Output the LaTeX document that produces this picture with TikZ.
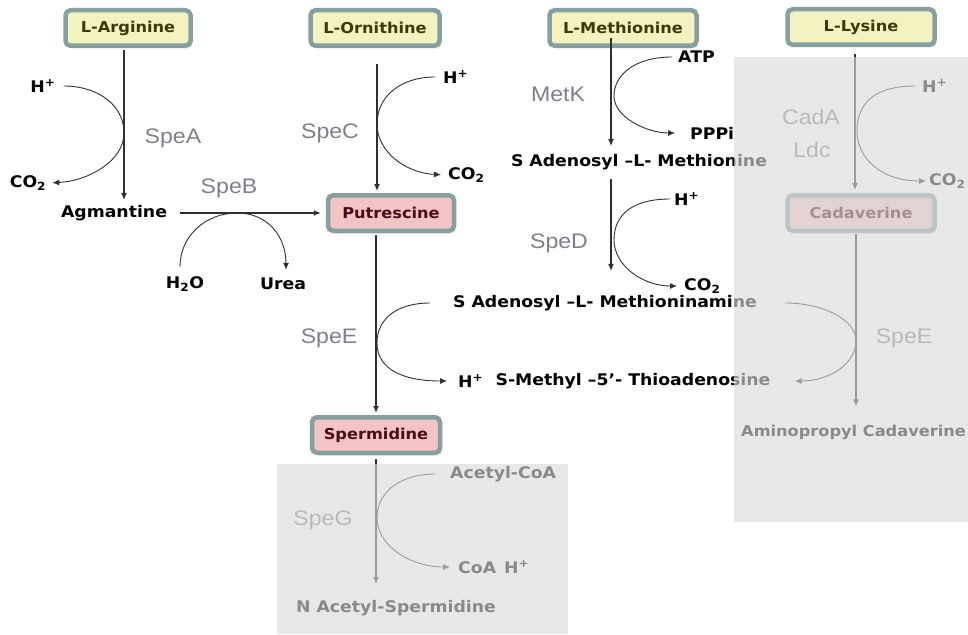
\documentclass[tikz,border=0pt]{standalone}
\usepackage{fontspec}
\usepackage{xcolor}
\usepackage{tikz}
\usetikzlibrary{arrows.meta,positioning,calc,shadows}
\newfontfamily\cmpdfont{DejaVu Sans}[FakeStretch=1.08]
\newfontfamily\enzfont{Liberation Sans}[FakeStretch=1.1]
\definecolor{boxedge}{HTML}{86A0A0}
\definecolor{aminofill}{HTML}{F3F3C2}
\definecolor{polyfill}{HTML}{F2C4C4}
\definecolor{aminotext}{HTML}{3A3A0A}
\definecolor{polytext}{HTML}{4A0A18}
\definecolor{enzgray}{HTML}{7E8088}
\definecolor{linegray}{HTML}{303030}
\definecolor{veil}{HTML}{DBDBDB}
\newcommand{\Hplus}{H\textsuperscript{+}}
\newcommand{\COtwo}{CO\textsubscript{2}}

\tikzset{
  amino/.style={draw=boxedge, line width=4.5pt, rounded corners=5pt, fill=aminofill,
    text=aminotext, minimum height=35.5pt, inner sep=0pt,
    font=\cmpdfont\bfseries\fontsize{15}{17}\selectfont,
    drop shadow={opacity=0.2, shadow xshift=2pt, shadow yshift=-3pt}},
  poly/.style={amino, fill=polyfill, text=polytext},
  cmpd/.style={inner sep=0pt, font=\cmpdfont\bfseries\fontsize{16}{18}\selectfont},
  side/.style={cmpd, inner sep=2pt},
  enz/.style={text=enzgray, inner sep=0pt, font=\enzfont\fontsize{21}{23}\selectfont},
  flow/.style={->, line width=1.2pt, draw=linegray},
  sidearc/.style={->, line width=0.9pt, draw=linegray},
}

\begin{document}
\begin{tikzpicture}[x=1pt,y=-1pt,>={Latex[length=7pt,width=6pt]}]
  \useasboundingbox (0,0) rectangle (968,634);

  % Amino acids and polyamines
  \node[amino, minimum width=125pt] (arg) at (128,28) {L-Arginine};
  \node[amino, minimum width=129pt] (orn) at (375,28) {L-Ornithine};
  \node[amino, minimum width=147pt] (met) at (623,28) {L-Methionine};
  \node[amino, minimum width=147pt] (lys) at (861,27) {L-Lysine};
  \node[poly, minimum width=126pt] (put) at (391,213) {Putrescine};
  \node[poly, minimum width=147pt] (cad) at (861,213) {Cadaverine};
  \node[poly, minimum width=128pt] (spd) at (376,435) {Spermidine};

  % Intermediates and products
  \node[cmpd] (agm) at (114,213) {Agmantine};
  \node[cmpd] (sam) at (639,162) {S Adenosyl –L- Methionine};
  \node[cmpd] (dsam) at (605,303) {S Adenosyl –L- Methioninamine};
  \node[cmpd] (mta) at (633,381) {S-Methyl –5’- Thioadenosine};
  \node[cmpd, anchor=west, font=\cmpdfont\bfseries\fontsize{15}{17}\selectfont] (apc) at (741,432) {Aminopropyl Cadaverine};
  \node[cmpd] (nas) at (396,608) {N Acetyl-Spermidine};

  % Co-substrates
  \node[side] (hA) at (43,86) {\Hplus};
  \node[side] (coA) at (28,183) {\COtwo};
  \node[side, anchor=west] (hC) at (441,77) {\Hplus};
  \node[side, anchor=west] (coC) at (446,175) {\COtwo};
  \node[side, anchor=west] (atp) at (676,57) {ATP};
  \node[side, anchor=west] (pppi) at (688,133) {PPPi};
  \node[side, anchor=west] (hD) at (672,199) {\Hplus};
  \node[side, anchor=west] (coD) at (682,286) {\COtwo};
  \node[side, anchor=west] (hE) at (456,381) {\Hplus};
  \node[side, anchor=west] (hL) at (920,86) {\Hplus};
  \node[side, anchor=west] (coL) at (927,181) {\COtwo};
  \node[side, anchor=west] (acoa) at (448,474) {Acetyl-CoA};
  \node[side, anchor=west] (coa) at (456,567) {CoA\enspace\Hplus};
  \node[side] (h2o) at (185,284) {H\textsubscript{2}O};
  \node[side] (urea) at (283,284) {Urea};

  % Enzymes
  \node[enz] (speA) at (173,138) {SpeA};
  \node[enz] (speB) at (229,188) {SpeB};
  \node[enz] (speC) at (330,133) {SpeC};
  \node[enz] (metK) at (558,94) {MetK};
  \node[enz] (speD) at (559,243) {SpeD};
  \node[enz] (speE) at (329,338) {SpeE};
  \node[enz] (speEc) at (904,338) {SpeE};
  \node[enz] (cadA) at (811,117) {CadA};
  \node[enz] (ldc) at (812,150) {Ldc};
  \node[enz] (speG) at (323,520) {SpeG};

  % Touch points of the side reactions
  \coordinate (kA) at (124,133);
  \coordinate (kB) at (237,213);
  \coordinate (kC) at (377,124);
  \coordinate (kM) at (614,96);
  \coordinate (kD) at (614,240);
  \coordinate (kE) at (377,343);
  \coordinate (kEc) at (856,341);
  \coordinate (kL) at (857,131);
  \coordinate (kG) at (377,518);
  \coordinate (metTop) at (611,38);

  % Main reactions
  \draw[flow, shorten <=2pt, shorten >=5pt] (arg.south -| kA) -- (agm.north -| kA);
  \draw[flow, shorten <=16pt, shorten >=2pt] (orn.south -| kC) -- (put.north -| kC);
  \draw[flow, shorten <=13pt, shorten >=5pt] (agm.east) -- (put.west);
  \draw[flow, shorten <=2pt, shorten >=2pt] (put.south -| spd) -- (spd.north);
  \draw[flow, shorten >=8pt] (metTop) -- (sam.north -| metTop);
  \draw[flow, shorten <=9pt, shorten >=24pt] (sam.south -| metTop) -- (dsam.north -| metTop);
  \draw[flow, shorten <=7pt, shorten >=3pt] (lys.south -| 855,0) -- (cad.north -| 855,0);
  \draw[flow, shorten <=1pt, shorten >=18pt] (cad.south -| kEc) -- (apc.north -| kEc);
  \draw[flow, shorten <=4pt, shorten >=16pt] (spd.south) -- (nas.north -| spd);

  % Side reactions
  \draw[sidearc, shorten <=6pt, shorten >=4pt] (hA.east) .. controls +(40,0) and +(0,-28) .. (kA)
    .. controls +(0,28) and +(40,-2) .. (coA.east);
  \draw[sidearc, shorten <=6pt, shorten >=5pt] (hC.west) .. controls +(-40,0) and +(0,-28) .. (kC)
    .. controls +(0,28) and +(-40,-2) .. (coC.west);
  \draw[sidearc, shorten <=4pt, shorten >=13pt] (atp.west) .. controls +(-40,0) and +(0,-22) .. (kM)
    .. controls +(0,22) and +(-40,0) .. (pppi.west);
  \draw[sidearc, shorten <=2pt, shorten >=5pt] (hD.west) .. controls +(-40,0) and +(0,-25) .. (kD)
    .. controls +(0,25) and +(-40,0) .. (coD.west);
  \draw[sidearc, shorten <=23pt, shorten >=9pt] (dsam.west) .. controls +(-55,0) and +(0,-25) .. (kE)
    .. controls +(0,25) and +(-55,0) .. (hE.west);
  \draw[sidearc, shorten <=28pt, shorten >=24pt] (dsam.east) .. controls +(65,0) and +(0,-22) .. (kEc)
    .. controls +(0,22) and +(60,0) .. (mta.east);
  \draw[sidearc, shorten <=5pt, shorten >=1pt] (hL.west) .. controls +(-45,0) and +(0,-28) .. (kL)
    .. controls +(0,28) and +(-45,0) .. (coL.west);
  \draw[sidearc, shorten <=13pt, shorten >=6pt] (acoa.west) .. controls +(-45,0) and +(0,-28) .. (kG)
    .. controls +(0,28) and +(-45,0) .. (coa.west);
  \draw[sidearc, shorten <=8pt, shorten >=6pt] ([xshift=-5pt]h2o.north) .. controls +(0,-38) and +(-32,0) .. (kB)
    .. controls +(32,0) and +(0,-38) .. ([xshift=3pt]urea.north);

  % Grey veils over the pathways not present
  \fill[veil, opacity=0.63] (734,57) rectangle (968,522);
  \fill[veil, opacity=0.63] (277,464) rectangle (568,634);
\end{tikzpicture}
\end{document}
